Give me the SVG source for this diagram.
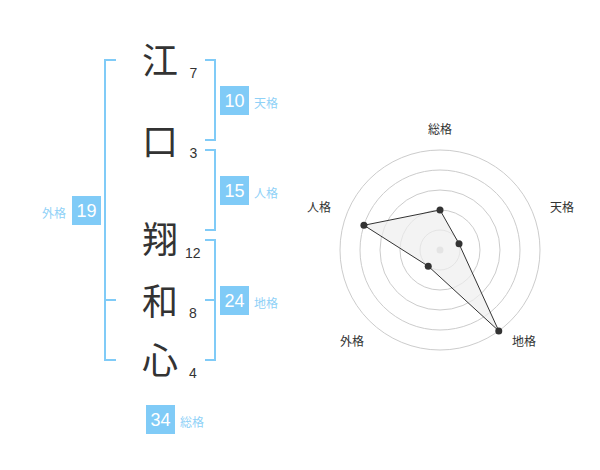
<svg xmlns="http://www.w3.org/2000/svg" width="600" height="470" viewBox="0 0 600 470">
<style>
.ch{font-family:"Noto Sans CJK JP","Noto Sans CJK SC",sans-serif;font-size:36px;fill:#333;text-anchor:middle}
.num{font-family:"Liberation Sans",Arial,sans-serif;font-size:14px;fill:#333}
.br{fill:none;stroke:#80cbf7;stroke-width:2}
.box{fill:#80cbf7}
.bn{font-family:"Liberation Sans",Arial,sans-serif;font-size:18px;fill:#fff;text-anchor:middle}
.lb{font-family:"Noto Sans CJK JP","Noto Sans CJK SC",sans-serif;font-size:12px;fill:#8fd1f7}
.rl{font-family:"Noto Sans CJK JP","Noto Sans CJK SC",sans-serif;font-size:12px;fill:#333;text-anchor:middle}
.ring{fill:none;stroke:#ccc;stroke-width:1}
.dot{fill:#333}
</style>
<rect width="600" height="470" fill="#fff"/>
<g id="chars">
<g id="c1"><text class="ch" x="160" y="74">江</text><text class="num" x="189.5" y="78">7</text></g>
<g id="c2"><text class="ch" x="160" y="155">口</text><text class="num" x="189.5" y="158">3</text></g>
<g id="c3"><text class="ch" x="160" y="253">翔</text><text class="num" x="185" y="258">12</text></g>
<g id="c4"><text class="ch" x="160" y="315">和</text><text class="num" x="189" y="318">8</text></g>
<g id="c5"><text class="ch" x="160" y="374">心</text><text class="num" x="189" y="378">4</text></g>
</g>
<g id="connectors">
<path class="br" d="M116,60 H105 V360 H116 M105,300 H116"/>
<path class="br" d="M205,60 H215 V140 H205"/>
<path class="br" d="M205,150 H215 V230 H205"/>
<path class="br" d="M205,240 H215 V360 H205 M215,300 H205"/>
</g>
<g id="tenkaku"><rect class="box" x="220" y="86" width="29" height="29"/><text class="bn" x="234.5" y="107">10</text><text class="lb" x="254" y="108">天格</text></g>
<g id="jinkaku"><rect class="box" x="220" y="176" width="29" height="29"/><text class="bn" x="234.5" y="197">15</text><text class="lb" x="254" y="198">人格</text></g>
<g id="gaikaku"><rect class="box" x="72" y="196" width="29" height="29"/><text class="bn" x="86.5" y="217">19</text><text class="lb" x="66" y="218" text-anchor="end">外格</text></g>
<g id="chikaku"><rect class="box" x="220" y="286" width="29" height="29"/><text class="bn" x="234.5" y="307">24</text><text class="lb" x="254" y="308">地格</text></g>
<g id="soukaku"><rect class="box" x="146" y="405" width="29" height="29"/><text class="bn" x="160.5" y="426">34</text><text class="lb" x="180" y="427">総格</text></g>
<g id="radar">
<circle class="ring" cx="440" cy="250" r="20"/>
<circle class="ring" cx="440" cy="250" r="40"/>
<circle class="ring" cx="440" cy="250" r="60"/>
<circle class="ring" cx="440" cy="250" r="80"/>
<circle class="ring" cx="440" cy="250" r="100"/>
<circle cx="440" cy="250" r="3.5" fill="#ccc"/>
<polygon points="440,210 459.02,243.82 498.78,330.9 428.24,266.18 363.92,225.28" fill="#eee" fill-opacity="0.7" stroke="#333" stroke-width="1"/>
<circle class="dot" cx="440" cy="210" r="3.5"/>
<circle class="dot" cx="459.02" cy="243.82" r="3.5"/>
<circle class="dot" cx="498.78" cy="330.9" r="3.5"/>
<circle class="dot" cx="428.24" cy="266.18" r="3.5"/>
<circle class="dot" cx="363.92" cy="225.28" r="3.5"/>
<text class="rl" x="440" y="134">総格</text>
<text class="rl" x="562" y="212">天格</text>
<text class="rl" x="319" y="212">人格</text>
<text class="rl" x="352" y="346">外格</text>
<text class="rl" x="524" y="346">地格</text>
</g>
</svg>
